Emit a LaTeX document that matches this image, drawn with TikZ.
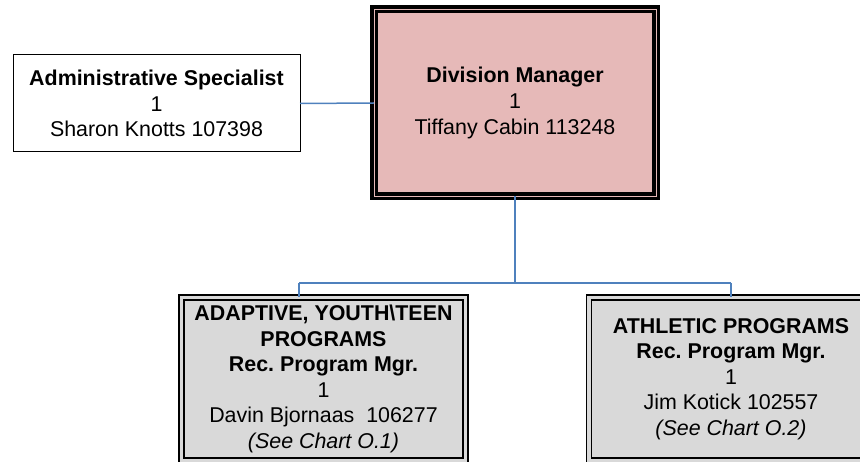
\documentclass[tikz,border=0pt]{standalone}
\usepackage{fontspec}
\setmainfont{Liberation Sans}
\usepackage{tikz}
\usetikzlibrary{positioning}
\definecolor{pinkbox}{RGB}{230, 185, 184}
\definecolor{greybox}{RGB}{217, 217, 217}
\definecolor{wire}{RGB}{79, 129, 189}
\frenchspacing

\begin{document}
\begin{tikzpicture}[x=1pt, y=-1pt, font=\fontsize{21.4}{25.6}\selectfont,
  every node/.style={align=center, inner sep=0pt, outer sep=0pt},
  plainbox/.style={draw, line width=1pt, minimum width=287pt, minimum height=97pt},
  headbox/.style={draw, fill=pinkbox, line width=3.5pt, double=pinkbox,
    double distance=1pt, minimum width=282pt, minimum height=187pt},
  progbox/.style={draw, fill=greybox, line width=1.3pt, double=greybox,
    double distance=3.7pt, minimum width=284pt, minimum height=163pt},
  link/.style={draw=wire, line width=1.5pt}]
  \useasboundingbox (0, 0) rectangle (860, 462);
  \clip (0, 0) rectangle (860, 462);

  % wires first, boxes on top
  \coordinate (bus) at (515, 283);
  \coordinate (busL) at (299, 283);
  \coordinate (busR) at (731, 283);

  \node[headbox] (mgr) at (515, 103) {\textbf{Division Manager}\\ 1\\ Tiffany Cabin 113248};

  \node[plainbox] (admin) at (156.5, 103.5) {\textbf{Administrative Specialist}\\ 1\\ Sharon Knotts 107398};

  \node[progbox] (adaptive) at (323.5, 379) {\textbf{ADAPTIVE, YOUTH\textbackslash TEEN}\\
    \textbf{PROGRAMS}\\ \textbf{Rec.\ Program Mgr.}\\ 1\\ Davin Bjornaas~ 106277\\ \textit{(See Chart O.1)}};

  \node[progbox] (athletic) at (731, 379) {\textbf{ATHLETIC PROGRAMS}\\
    \textbf{Rec.\ Program Mgr.}\\ 1\\ Jim Kotick 102557\\ \textit{(See Chart O.2)}};

  \draw [link] (admin.east) -- (mgr.west);
  \draw [link] (mgr.south) -- (bus);
  \draw [link] (busL) -- (busR);
  \draw [link] (busL) -- (busL |- adaptive.north);
  \draw [link] (busR) -- (athletic.north);

\end{tikzpicture}
\end{document}
